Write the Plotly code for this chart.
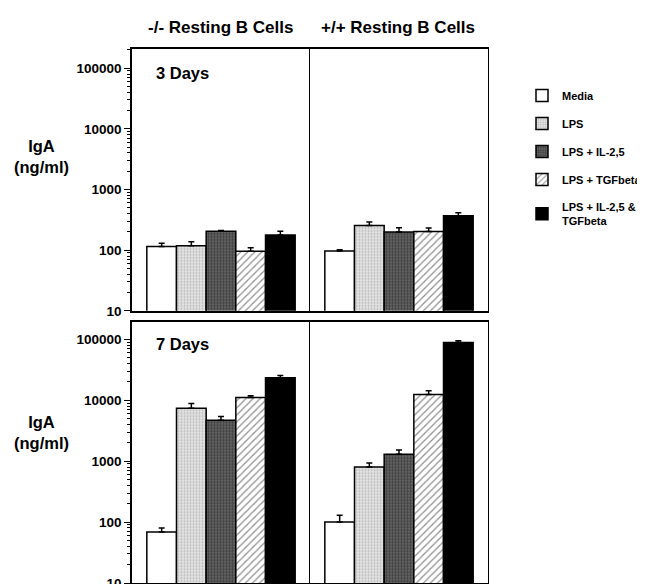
import plotly.graph_objects as go

categories = ["Media", "LPS", "LPS + IL-2,5", "LPS + TGFbeta", "LPS + IL-2,5 &<br>TGFbeta"]
panel_titles = ["-/- Resting B Cells", "+/+ Resting B Cells"]
day_labels = ["3 Days", "7 Days"]
y_ticks = [10, 100, 1000, 10000, 100000]

# IgA (ng/ml) means and upper error (SEM)
day3_ko = [115, 118, 205, 96, 178]
day3_ko_err = [15, 20, 5, 14, 27]
day3_wt = [97, 255, 200, 203, 370]
day3_wt_err = [5, 35, 35, 29, 45]
day7_ko = [69, 7400, 4700, 11100, 23500]
day7_ko_err = [11, 1400, 700, 800, 2000]
day7_wt = [100, 800, 1300, 12400, 89000]
day7_wt_err = [30, 130, 230, 1900, 6000]

W, H = 645, 584
def px(x): return x / W
def py(y): return 1 - y / H

styles = [
    dict(color="white", pattern=dict(shape="")),
    dict(color="#d8d8d8", pattern=dict(shape=".", bgcolor="#e6e6e6", fgcolor="#8a8a8a", size=3, solidity=0.4)),
    dict(color="#505050", pattern=dict(shape=".", bgcolor="#6a6a6a", fgcolor="#111111", size=3, solidity=0.5)),
    dict(color="white", pattern=dict(shape="/", bgcolor="white", fgcolor="#222222", size=5, solidity=0.25)),
    dict(color="black", pattern=dict(shape="")),
]

panels = [
    (day3_ko, day3_ko_err, "x", "y"),
    (day3_wt, day3_wt_err, "x2", "y2"),
    (day7_ko, day7_ko_err, "x3", "y3"),
    (day7_wt, day7_wt_err, "x4", "y4"),
]

fig = go.Figure()
for p, (vals, errs, xa, ya) in enumerate(panels):
    for i, cat in enumerate(categories):
        st = styles[i]
        fig.add_trace(go.Bar(
            x=[i], y=[vals[i]], width=[1], xaxis=xa, yaxis=ya,
            name=cat, legendgroup=cat, showlegend=(p == 0),
            marker=dict(color=st["color"], pattern=st["pattern"],
                        line=dict(color="black", width=1.5)),
            error_y=dict(type="data", symmetric=False, array=[errs[i]], arrayminus=[0],
                         color="black", thickness=1.5, width=3),
        ))

cols = [[px(124), px(302)], [px(302), px(480)]]
rows = [[py(307), py(42)], [py(583), py(318)]]
ranges = [[1, 5.31], [1, 5.29]]

font_bold = dict(family="Liberation Sans, Arial, sans-serif", color="black", weight="bold")

layout = dict(
    width=W, height=H, margin=dict(l=0, r=0, t=0, b=0),
    paper_bgcolor="white", plot_bgcolor="white",
    barmode="overlay", showlegend=True,
    legend=dict(x=px(514), y=py(74), xanchor="left", yanchor="top",
                font=dict(size=11, **font_bold), tracegroupgap=9,
                bgcolor="rgba(0,0,0,0)"),
)
for k in range(4):
    r, c = divmod(k, 2)
    sx = "" if k == 0 else str(k + 1)
    layout["xaxis" + sx] = dict(domain=cols[c], anchor="y" + sx, range=[-1, 5],
                                showticklabels=False, ticks="", showgrid=False, zeroline=False,
                                showline=True, mirror=True, linecolor="black", linewidth=1.5)
    yd = dict(domain=rows[r], anchor="x" + sx, type="log", range=ranges[r],
              showgrid=False, zeroline=False, showline=True,
              linecolor="black")
    if c == 0:
        yd.update(mirror=False, linewidth=1.5,
                  tickmode="array", tickvals=y_ticks, ticktext=[str(t) for t in y_ticks],
                  ticks="outside", ticklen=6, tickwidth=1.2, tickcolor="black",
                  tickfont=dict(size=13.5, **font_bold),
                  minor=dict(ticks="outside", ticklen=3, tickwidth=0.8, tickcolor="black",
                             tickvals=[m * 10 ** e for e in range(1, 6) for m in range(2, 10)]))
    else:
        yd.update(mirror=True, linewidth=1.2, showticklabels=False, ticks="")
    layout["yaxis" + sx] = yd

fig.update_layout(**layout)

def note(x, y, text, size, xanchor="center"):
    return dict(x=px(x), y=py(y), text=text, showarrow=False, xanchor=xanchor, yanchor="middle",
                xref="paper", yref="paper", font=dict(size=size, **font_bold))

ann = [
    note(212, 20, panel_titles[0], 17),
    note(390, 20, panel_titles[1], 17),
    note(146, 66, day_labels[0], 16.5, "left"),
    note(146, 341, day_labels[1], 16.5, "left"),
    note(33, 151, "IgA<br>(ng/ml)", 16.5),
    note(33, 430, "IgA<br>(ng/ml)", 16.5),
]
fig.update_layout(annotations=ann)

fig.write_html("out.html")
